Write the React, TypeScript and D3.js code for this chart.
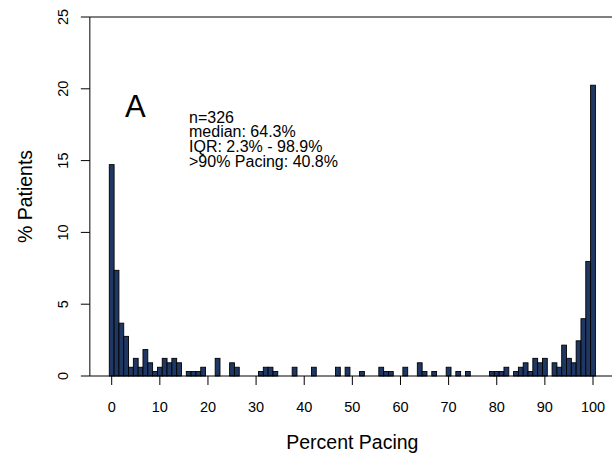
import React from "react";
import * as d3 from "d3";

// Histogram of percent pacing, one bin per whole percent (0..100)
const bins: number[] = d3.range(0, 101);

// % of patients in each bin
const pctPatients: number[] = [
  14.72, 7.36, 3.68, 2.76, 0.61, 1.23, 0.61, 1.84, 0.92, 0.31, // 0-9
  0.61, 1.23, 0.92, 1.23, 0.92, 0, 0.31, 0.31, 0.31, 0.61, // 10-19
  0, 0, 1.23, 0, 0, 0.92, 0.61, 0, 0, 0, // 20-29
  0, 0.31, 0.61, 0.61, 0.31, 0, 0, 0, 0.61, 0, // 30-39
  0, 0, 0.61, 0, 0, 0, 0, 0.61, 0, 0.61, // 40-49
  0, 0, 0.31, 0, 0, 0, 0.61, 0.31, 0.31, 0, // 50-59
  0, 0.61, 0, 0, 0.92, 0.31, 0, 0.31, 0, 0, // 60-69
  0.61, 0, 0.31, 0, 0.31, 0, 0, 0, 0, 0.31, // 70-79
  0.31, 0.31, 0.61, 0, 0.31, 0.61, 0.92, 0.31, 1.23, 0.92, // 80-89
  1.23, 0, 0.92, 0.61, 2.15, 1.23, 0.92, 2.45, 3.99, 7.98, // 90-99
  20.25, // 100
];

const xTicks: number[] = [0, 10, 20, 30, 40, 50, 60, 70, 80, 90, 100];
const yTicks: number[] = [0, 5, 10, 15, 20, 25];

const panelLabel = "A";
const statLines: string[] = [
  "n=326",
  "median: 64.3%",
  "IQR: 2.3% - 98.9%",
  ">90% Pacing: 40.8%",
];

const W = 612;
const H = 460;
const FONT = "'Liberation Sans', Arial, Helvetica, sans-serif";
const BAR_FILL = "#1f3763";

export default function App() {
  const x = d3.scaleLinear().domain([0, 100]).range([111.7, 593]);
  const y = d3.scaleLinear().domain([0, 25]).range([376, 17]);

  // plot frame spans the padded x range
  const frameLeft = x(-4.54);
  const frameRight = x(104.54);
  const tickLen = 9;

  return (
    <svg
      width={W}
      height={H}
      viewBox={`0 0 ${W} ${H}`}
      style={{ position: "absolute", left: 0, top: 0, background: "#fff" }}
      fontFamily={FONT}
    >
      <rect x={0} y={0} width={W} height={H} fill="#fff" />

      {/* bars */}
      <g>
        {bins.map((b, i) => {
          const v = pctPatients[i];
          if (!v) return null;
          const x0 = x(b - 0.5);
          const x1 = x(b + 0.5);
          return (
            <rect
              key={b}
              x={x0}
              y={y(v)}
              width={x1 - x0}
              height={y(0) - y(v)}
              fill={BAR_FILL}
              stroke="#000"
              strokeWidth={0.9}
            />
          );
        })}
      </g>

      {/* frame */}
      <path
        d={`M${frameRight},${y(25)} H${frameLeft} V${y(0)} H${frameRight}`}
        fill="none"
        stroke="#000"
        strokeWidth={1}
      />

      {/* y axis */}
      <g>
        {yTicks.map((t) => (
          <g key={t}>
            <line
              x1={frameLeft}
              x2={frameLeft - tickLen}
              y1={y(t)}
              y2={y(t)}
              stroke="#000"
              strokeWidth={1}
            />
            <text
              transform={`translate(68,${y(t)}) rotate(-90)`}
              textAnchor="middle"
              fontSize={14.5}
              fill="#000"
            >
              {t}
            </text>
          </g>
        ))}
        <text
          transform={`translate(32,${(y(0) + y(25)) / 2}) rotate(-90)`}
          textAnchor="middle"
          fontSize={19.5}
          fill="#000"
        >
          % Patients
        </text>
      </g>

      {/* x axis */}
      <g>
        {xTicks.map((t) => (
          <g key={t}>
            <line
              x1={x(t)}
              x2={x(t)}
              y1={y(0)}
              y2={y(0) + tickLen}
              stroke="#000"
              strokeWidth={1}
            />
            <text
              x={x(t)}
              y={412}
              textAnchor="middle"
              fontSize={14.5}
              fill="#000"
            >
              {t}
            </text>
          </g>
        ))}
        <text
          x={(x(0) + x(100)) / 2}
          y={449}
          textAnchor="middle"
          fontSize={19.5}
          fill="#000"
        >
          Percent Pacing
        </text>
      </g>

      {/* panel annotation */}
      <text x={125} y={117} fontSize={31} fill="#000">
        {panelLabel}
      </text>
      <text fontSize={16} fill="#000">
        {statLines.map((s, i) => (
          <tspan key={i} x={189} y={122.5 + i * 14.7}>
            {s}
          </tspan>
        ))}
      </text>
    </svg>
  );
}
